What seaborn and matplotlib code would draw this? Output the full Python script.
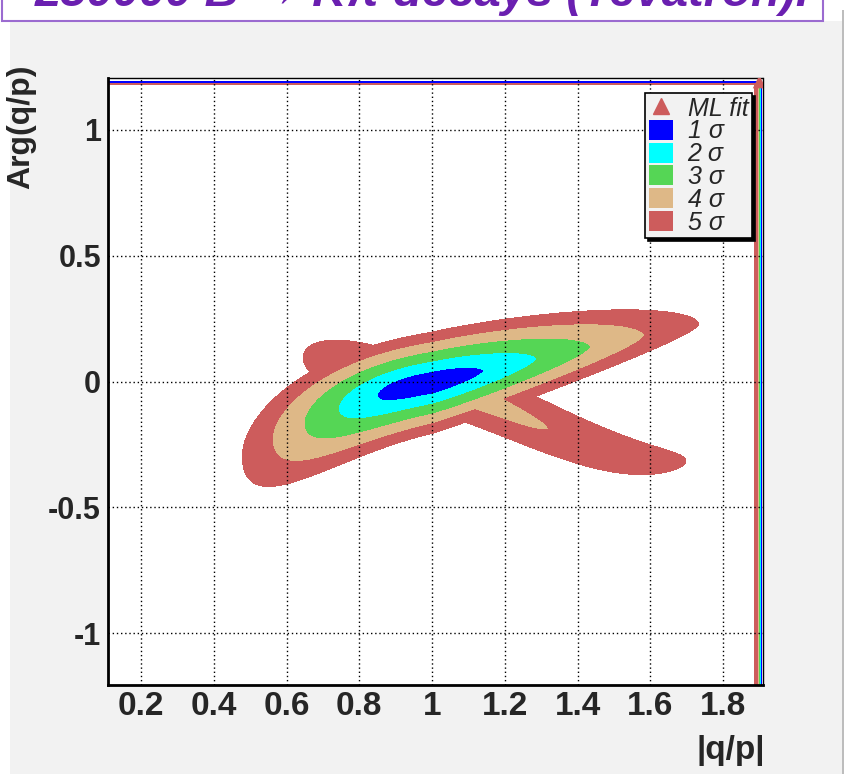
import numpy as np
import matplotlib
matplotlib.use("Agg")
import matplotlib.pyplot as plt
import seaborn as sns
from matplotlib.patches import Rectangle, Patch
from matplotlib.lines import Line2D

# ---- likelihood-scan description -------------------------------------------
title_text = "250000 B \u2192 K\u03c0 decays (Tevatron)."
x_label = "|q/p|"
y_label = "Arg(q/p)"
x_ticks = [0.2, 0.4, 0.6, 0.8, 1.0, 1.2, 1.4, 1.6, 1.8]
x_tick_labels = ["0.2", "0.4", "0.6", "0.8", "1", "1.2", "1.4", "1.6", "1.8"]
y_ticks = [-1.0, -0.5, 0.0, 0.5, 1.0]
y_tick_labels = ["-1", "-0.5", "0", "0.5", "1"]

sigma_levels = [1, 2, 3, 4, 5]
level_labels = ["1 \u03c3", "2 \u03c3", "3 \u03c3", "4 \u03c3", "5 \u03c3"]
level_colors = ["#0000ff", "#00ffff", "#55d655", "#deb887", "#cd5c5c"]

ml_fit = (1.0, -0.005)           # minimum of the scan
ml_marker = (1.9, 1.19)          # where the fit marker ended up (scan corner)

# principal valley, per side [lower-left, upper-right]
main_ridge = [[0.237, -0.62, 0.0], [0.34, -0.03, 0.0]]   # dy = c1 dx + c2 dx^2 + c3 dx^3
main_length = [0.151, 0.142]
main_growth = [0.77, 1.02]
main_width = [0.045, 0.045]
main_flare = [1.2, 0.0]          # widening away from the minimum (~dx^2)
main_taper_below = [-0.5, 0.5]   # lower flank: widening (<0) / narrowing (>0)
main_width_growth = 0.93
main_shape = [2.0, 1.6]

# secondary (mirror) valley, per side [upper-left, lower-right]
second_ridge = [[-0.28, 0.0, 0.0], [-0.4, -0.897, 1.194]]
second_length = [0.105, 0.207]
second_width = [0.022, 0.034]
second_flare = [3.5, 0.0]        # widening away from the minimum (~|dx|)
second_floor = 3.69

# boundary of the scan grid (last columns / rows of the scan)
edge_x = [1.880, 1.886, 1.896, 1.902, 1.906]
edge_x_sigma = [6.0, 5.0, 4.0, 1.5, 0.0]
edge_y = [1.178, 1.181, 1.184, 1.187, 1.19]
edge_y_sigma = [5.4, 4.6, 1.0, 0.2, 0.0]

x_range = (0.109, 1.91)
y_range = (-1.205, 1.205)


def valley(dx, dy, ridge, lengths, growth, width, flare, flare_power, taper,
           wgrowth, shape, floor=0.0):
    right = dx >= 0

    def pick(pair):
        return np.where(right, pair[1], pair[0])

    c1 = pick([ridge[0][0], ridge[1][0]])
    c2 = pick([ridge[0][1], ridge[1][1]])
    c3 = pick([ridge[0][2], ridge[1][2]])
    offset = dy - (c1 * dx + c2 * dx ** 2 + c3 * dx ** 3)
    w = pick(width) * (1.0 + pick(flare) * np.abs(dx) ** flare_power)
    w = np.where(offset < 0, w * (1.0 - pick(taper) * np.abs(dx)), w)
    along = (np.abs(dx) / pick(lengths)) ** (1.0 / pick(growth))
    across = (np.abs(offset) / w) ** (1.0 / wgrowth)
    p = pick(shape)
    core = (along ** p + across ** p) ** (1.0 / p)
    return np.sqrt(floor ** 2 + core ** 2)


xg = np.r_[np.linspace(0.10, edge_x[0], 480)[:-1], edge_x]
yg = np.r_[np.linspace(-1.21, edge_y[0], 520)[:-1], edge_y]
X, Y = np.meshgrid(xg, yg)
dX, dY = X - ml_fit[0], Y - ml_fit[1]

nsigma = np.minimum(
    valley(dX, dY, main_ridge, main_length, main_growth, main_width,
           main_flare, 2.0, main_taper_below, main_width_growth, main_shape),
    valley(dX, dY, second_ridge, second_length, [1.0, 1.0], second_width,
           second_flare, 1.0, [0.0, 0.0], 1.0, [2.0, 2.0],
           floor=second_floor),
)
nx, ny = len(edge_x), len(edge_y)
nsigma[:, -nx:] = np.minimum(nsigma[:, -nx:], np.array(edge_x_sigma)[None, :])
nsigma[-ny:, :] = np.minimum(nsigma[-ny:, :], np.array(edge_y_sigma)[:, None])

# ---- figure ----------------------------------------------------------------
sns.set_theme(style="white")
plt.rcParams["font.family"] = ["Liberation Sans", "DejaVu Sans"]

W, H = 846, 774
fig = plt.figure(figsize=(W / 100, H / 100), dpi=100, facecolor="white")

# pad background and title box
fig.patches.append(Rectangle((10 / W, 0), 832 / W, 1 - 21 / H,
                             transform=fig.transFigure, facecolor="#f2f2f2",
                             edgecolor="none", zorder=-3))
fig.patches.append(Rectangle((842 / W, 0), 2 / W, 1 - 10 / H,
                             transform=fig.transFigure, facecolor="#bdbdbd",
                             edgecolor="none", zorder=-3))
fig.patches.append(Rectangle((2 / W, 1 - 21 / H), 821 / W, 40 / H,
                             transform=fig.transFigure, facecolor="white",
                             edgecolor="#9b6bd0", linewidth=1.5, zorder=-2))
fig.text(35 / W, 1 - 6 / H, title_text, color="#6a1fb0", fontsize=34,
         fontweight="bold", fontstyle="italic", ha="left", va="baseline",
         zorder=-1)

ax = fig.add_axes([108 / W, 1 - 685 / H, 655 / W, 607 / H])
ax.set_facecolor("white")

levels = [-0.1] + sigma_levels
ax.contourf(xg, yg, nsigma, levels=levels, colors=level_colors, zorder=1)

sns.scatterplot(x=[ml_marker[0]], y=[ml_marker[1]], marker="^", s=90,
                color="#cd5c5c", edgecolor="none", ax=ax, zorder=4)

ax.set_xlim(*x_range)
ax.set_ylim(*y_range)
ax.set_xticks(x_ticks)
ax.set_xticklabels(x_tick_labels)
ax.set_yticks(y_ticks)
ax.set_yticklabels(y_tick_labels)
ax.set_xticks(np.arange(0.15, 1.91, 0.05), minor=True)
ax.set_yticks(np.arange(-1.2, 1.21, 0.1), minor=True)

ax.set_axisbelow(False)
ax.grid(True, which="major", color="black", linestyle=(0, (1, 2)),
        linewidth=1.0)
ax.tick_params(which="major", direction="in", length=15, width=1.4,
               color="black", top=False, right=False)
ax.tick_params(which="minor", direction="in", length=8, width=1.2,
               color="black", top=False, right=False)
ax.tick_params(axis="x", which="major", pad=4)
ax.tick_params(axis="y", which="major", pad=5)

for lab in ax.get_xticklabels():
    lab.set_fontweight("bold")
    lab.set_fontsize(24)
for lab in ax.get_yticklabels():
    lab.set_fontweight("bold")
    lab.set_fontsize(22)

ax.spines["left"].set_linewidth(2.0)
ax.spines["bottom"].set_linewidth(2.0)
ax.spines["top"].set_linewidth(1.0)
ax.spines["top"].set_linestyle((0, (1, 1)))
ax.spines["right"].set_linewidth(1.0)
for sp in ax.spines.values():
    sp.set_color("black")

ax.set_xlabel(x_label, fontsize=24, fontweight="bold")
ax.xaxis.set_label_coords((731 - 108) / 655, (685 - 751) / 607)
ax.xaxis.label.set_va("center")
ax.set_ylabel(y_label, fontsize=23, fontweight="bold")
ax.yaxis.set_label_coords((21 - 108) / 655, (685 - 127) / 607)
ax.yaxis.label.set_va("center")

handles = [Line2D([], [], marker="^", color="#cd5c5c", linestyle="",
                  markersize=11)]
handles += [Patch(facecolor=c, edgecolor="none") for c in level_colors]
labels = ["ML fit"] + level_labels
leg = ax.legend(handles, labels, loc="upper left",
                bbox_to_anchor=((645 - 108) / 655, (685 - 93) / 607),
                frameon=True, fancybox=False, facecolor="#f2f2f2",
                edgecolor="black", framealpha=1,
                shadow={"color": "black", "alpha": 1},
                prop={"style": "italic", "size": 18},
                handlelength=0.95, handleheight=0.85, handletextpad=0.6,
                labelspacing=-0.05, borderpad=0.15, borderaxespad=0)
leg.get_frame().set_linewidth(1.2)
leg.set_zorder(5)

fig.savefig("out.png", dpi=100, facecolor=fig.get_facecolor())
